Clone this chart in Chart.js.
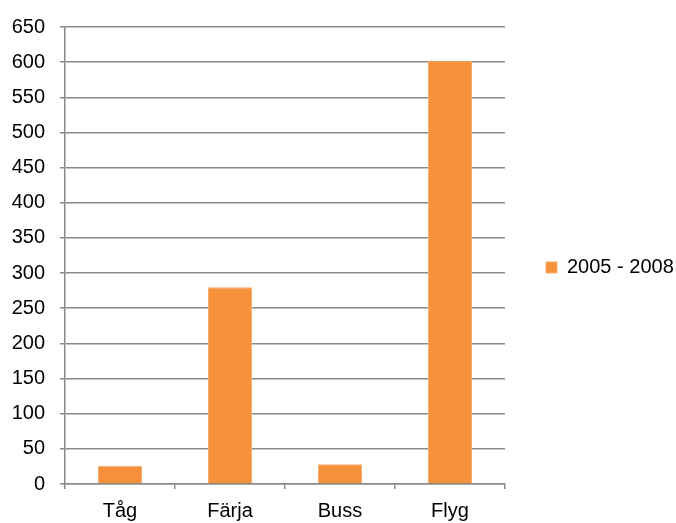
<!DOCTYPE html>
<html>
<head>
<meta charset="utf-8">
<script src="https://cdn.jsdelivr.net/npm/chart.js@4"></script>
<style>
  html, body { margin: 0; padding: 0; background: #fff; }
  #wrap { width: 676px; height: 523px; }
</style>
</head>
<body>
<div id="wrap"><canvas id="c" width="676" height="523"></canvas></div>
<script>
const categories = ['Tåg', 'Färja', 'Buss', 'Flyg'];
const seriesName = '2005 - 2008';
const seriesValues = [26, 280, 28, 602];
const yTicks = [0, 50, 100, 150, 200, 250, 300, 350, 400, 450, 500, 550, 600, 650];

const FONT = { family: '"Liberation Sans", Arial, sans-serif', size: 20 };
const GRID = '#8a8a8a';
const ORANGE = '#F6913B';

// Lift the legend a little so it sits level with the middle of the plot
const legendLift = {
  id: 'legendLift',
  afterLayout(chart) {
    if (chart.legend) {
      chart.legend.bottom -= 11;
      chart.legend.height -= 11;
    }
  }
};

new Chart(document.getElementById('c'), {
  type: 'bar',
  data: {
    labels: categories,
    datasets: [{
      label: seriesName,
      data: seriesValues,
      backgroundColor: ORANGE,
      borderColor: '#F9AD6C',
      borderWidth: 1,
      categoryPercentage: 1,
      barPercentage: 0.4
    }]
  },
  options: {
    responsive: false,
    animation: false,
    devicePixelRatio: 1,
    layout: { padding: { top: 23, left: 0, right: 0, bottom: 0 } },
    plugins: {
      tooltip: { enabled: false },
      legend: {
        position: 'right',
        maxWidth: 171,
        labels: {
          font: FONT,
          color: '#000',
          boxWidth: 11,
          boxHeight: 11,
          padding: 41,
          useBorderRadius: false
        }
      }
    },
    scales: {
      x: {
        grid: {
          offset: true,
          drawOnChartArea: false,
          color: GRID,
          lineWidth: 1.5,
          tickLength: 5,
          tickColor: GRID
        },
        border: { color: GRID, width: 1.5 },
        ticks: { font: FONT, color: '#000', padding: 10, maxRotation: 0 },
        afterFit(scale) { scale.height = 39; }
      },
      y: {
        min: 0,
        max: 650,
        afterBuildTicks(scale) { scale.ticks = yTicks.map(v => ({ value: v })); },
        grid: {
          color: GRID,
          lineWidth: 1.5,
          tickLength: 5,
          tickColor: GRID
        },
        border: { color: GRID, width: 1.5 },
        ticks: { font: FONT, color: '#000', padding: 15 },
        afterFit(scale) { scale.width = 65; }
      }
    }
  },
  plugins: [legendLift]
});
</script>
</body>
</html>
